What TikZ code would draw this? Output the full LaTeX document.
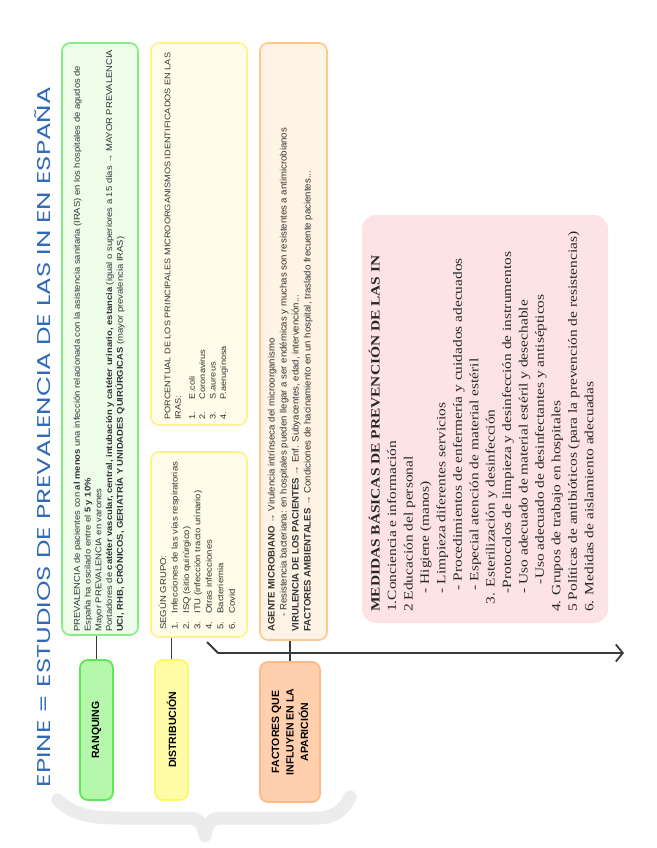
\documentclass[tikz,border=0pt]{standalone}
\usepackage{fontspec}
\usepackage{graphicx}
\setmainfont{Liberation Sans}
\newfontfamily\pinkfont{Liberation Serif}
\newfontfamily\titlefont{Poppins}
\usetikzlibrary{arrows.meta}
\definecolor{titleblue}{HTML}{3069B8}
\definecolor{greenB}{HTML}{86EC86}
\definecolor{greenF}{HTML}{EDFDEA}
\definecolor{greenLB}{HTML}{5DE852}
\definecolor{greenLF}{HTML}{B6F8AB}
\definecolor{yelB}{HTML}{FFF28A}
\definecolor{yelF}{HTML}{FFFDE9}
\definecolor{yelLB}{HTML}{FFF766}
\definecolor{yelLF}{HTML}{FFFDA8}
\definecolor{oraB}{HTML}{FFC88E}
\definecolor{oraF}{HTML}{FEF3E4}
\definecolor{oraLB}{HTML}{FFB98A}
\definecolor{oraLF}{HTML}{FFCFAE}
\definecolor{pinkF}{HTML}{FDE3E5}
\definecolor{braceG}{HTML}{ECECEC}
\definecolor{lineG}{HTML}{3A3A3A}
\definecolor{txtG}{HTML}{333333}
\begin{document}
\begin{tikzpicture}[x=1pt,y=-1pt,
  cbox/.style={rectangle, draw, rounded corners=8pt, line width=1.6pt, inner sep=0pt},
  lbox/.style={rectangle, draw, rounded corners=8pt, line width=1.8pt, inner sep=0pt},
  rtxt/.style={rotate=90, inner sep=0pt, anchor=north west, text=txtG},
  ltxt/.style={rotate=90, inner sep=0pt, align=center, text=black,
               font=\fontsize{10.5}{14.5}\selectfont\bfseries},
  conn/.style={draw=lineG, line width=1.8pt}
]
\useasboundingbox (0,0) rectangle (656,848);
\fill[white] (0,0) rectangle (656,848);

% background brace
\draw[braceG, line width=13pt, line cap=round, line join=round]
  (58,800) .. controls (72,814) and (88,818) .. (120,818)
  -- (188,818) .. controls (199,818) and (203,824) .. (205,836)
  .. controls (207,824) and (211,818) .. (222,818)
  -- (318,818) .. controls (334,818) and (344,810) .. (350,797);

% title
\node[rotate=90, inner sep=0pt, text=titleblue] (title) at (43,437)
  {\resizebox*{700pt}{16pt}{\titlefont EPINE = ESTUDIOS DE PREVALENCIA DE LAS IN EN ESPAÑA}};

% content boxes
\node[cbox, draw=greenB, fill=greenF, minimum width=76pt, minimum height=592pt] (green) at (100,339) {};
\node[cbox, draw=yelB, fill=yelF, minimum width=96pt, minimum height=382pt] (yeltop) at (199,234) {};
\node[cbox, draw=yelB, fill=yelF, minimum width=96pt, minimum height=185pt] (dist) at (199,544.5) {};
\node[cbox, draw=oraB, fill=oraF, minimum width=67pt, minimum height=597pt] (ora) at (293.5,341.5) {};
\node[rectangle, rounded corners=14pt, fill=pinkF, minimum width=246pt, minimum height=408pt, inner sep=0pt] (pink) at (485,419) {};

% label boxes
\node[lbox, draw=greenLB, fill=greenLF, minimum width=33pt, minimum height=140pt] (ranq) at (96.5,730) {};
\node[lbox, draw=yelLB, fill=yelLF, minimum width=33pt, minimum height=140pt] (distl) at (171.5,730) {};
\node[lbox, draw=oraLB, fill=oraLF, minimum width=60pt, minimum height=140pt] (fact) at (290,732) {};
\node[ltxt] (ranqt) at (ranq.center) {RANQUING};
\node[ltxt] (distlt) at (distl.center) {DISTRIBUCIÓN};
\node[ltxt] (factt) at (fact.center) {FACTORES QUE\\INFLUYEN EN LA\\APARICIÓN};

% connectors
\draw[conn] (ranq.north |- green.south) -- (ranq.north);
\draw[conn] (distl.north |- dist.south) -- (distl.north);
\coordinate (a0) at (207,642);
\coordinate (a1) at (218,653);
\coordinate (a2) at (624,653);
\draw[conn, line join=round, -{Straight Barb[length=7pt,width=17pt,line width=1.8pt]}] (a0) -- (a1) -- (a2);
\draw[conn] (fact.north |- ora.south) -- (fact.north);

% texts
\node[rtxt] (greent) at (72,632) {\resizebox*{582pt}{54pt}{\fontsize{7}{9}\selectfont
\begin{tabular}{@{}l@{}}
PREVALENCIA de pacientes con \textbf{al menos} una infección relacionada con la asistencia sanitaria (IRAS) en los hospitales de agudos de\\
España ha oscilado entre el \textbf{5 y 10\%}\\
Mayor PREVALENCIA en varones\\
Portadores de \textbf{catéter vascular, central, intubación y catéter urinario, estancia} (igual o superiores a 15 días → MAYOR PREVALENCIA\\
\textbf{UCI, RHB, CRÓNICOS, GERIATRÍA Y UNIDADES QUIRÚRGICAS} (mayor prevalencia IRAS)
\end{tabular}}};

\node[rtxt] (yeltopt) at (163,420) {\resizebox*{367pt}{66pt}{\fontsize{7}{9}\selectfont
\begin{tabular}{@{}l@{}}
PORCENTUAL DE LOS PRINCIPALES MICROORGANISMOS IDENTIFICADOS EN LAS\\
IRAS:\\[3pt]
1.\hspace{10pt}E.coli\\
2.\hspace{10pt}Coronavirus\\
3.\hspace{10pt}S.aureus\\
4.\hspace{10pt}P.aeruginosa
\end{tabular}}};

\node[rtxt] (distt) at (158,630) {\resizebox*{168pt}{80pt}{\fontsize{7}{9.5}\selectfont
\begin{tabular}{@{}l@{}}
SEGÚN GRUPO:\\
1.\hspace{6pt}Infecciones de las vías respiratorias\\
2.\hspace{6pt}ISQ (sitio quirúrgico)\\
3.\hspace{6pt}ITU (infección tracto urinario)\\
4.\hspace{6pt}Otras infecciones\\
5.\hspace{6pt}Bacteriemia\\
6.\hspace{6pt}Covid
\end{tabular}}};

\node[rtxt] (orat) at (266,632) {\resizebox*{504pt}{48pt}{\fontsize{7}{9}\selectfont
\begin{tabular}{@{}l@{}}
\textbf{AGENTE MICROBIANO} → Virulencia intrínseca del microorganismo\\
\hspace*{11pt}- Resistencia bacteriana: en hospitales pueden llegar a ser endémicas y muchas son resistentes a antimicrobianos\\
\textbf{VIRULENCIA DE LOS PACIENTES} → Enf. Subyacentes, edad, intervención...\\
\textbf{FACTORES AMBIENTALES} → Condiciones de hacinamiento en un hospital, traslado frecuente pacientes...
\end{tabular}}};

\node[rtxt, text=black!85] (pinkt) at (368,612) {\resizebox*{380pt}{230pt}{\pinkfont\fontsize{10}{13}\selectfont
\begin{tabular}{@{}l@{}}
\textbf{MEDIDAS BÁSICAS DE PREVENCIÓN DE LAS IN}\\
1.Conciencia e información\\
2 Educación del personal\\
\hspace*{12pt}- Higiene (manos)\\
\hspace*{12pt}- Limpieza diferentes servicios\\
\hspace*{14pt}- Procedimientos de enfermería y cuidados adecuados\\
\hspace*{14pt}- Especial atención de material estéril\\
\hspace*{5pt}3. Esterilización y desinfección\\
\hspace*{12pt}-Protocolos de limpieza y desinfección de instrumentos\\
\hspace*{12pt}- Uso adecuado de material estéril y desechable\\
\hspace*{18pt}-Uso adecuado de desinfectantes y antisépticos\\
4. Grupos de trabajo en hospitales\\
5 Políticas de antibióticos (para la prevención de resistencias)\\
6. Medidas de aislamiento adecuadas
\end{tabular}}};
\end{tikzpicture}
\end{document}
